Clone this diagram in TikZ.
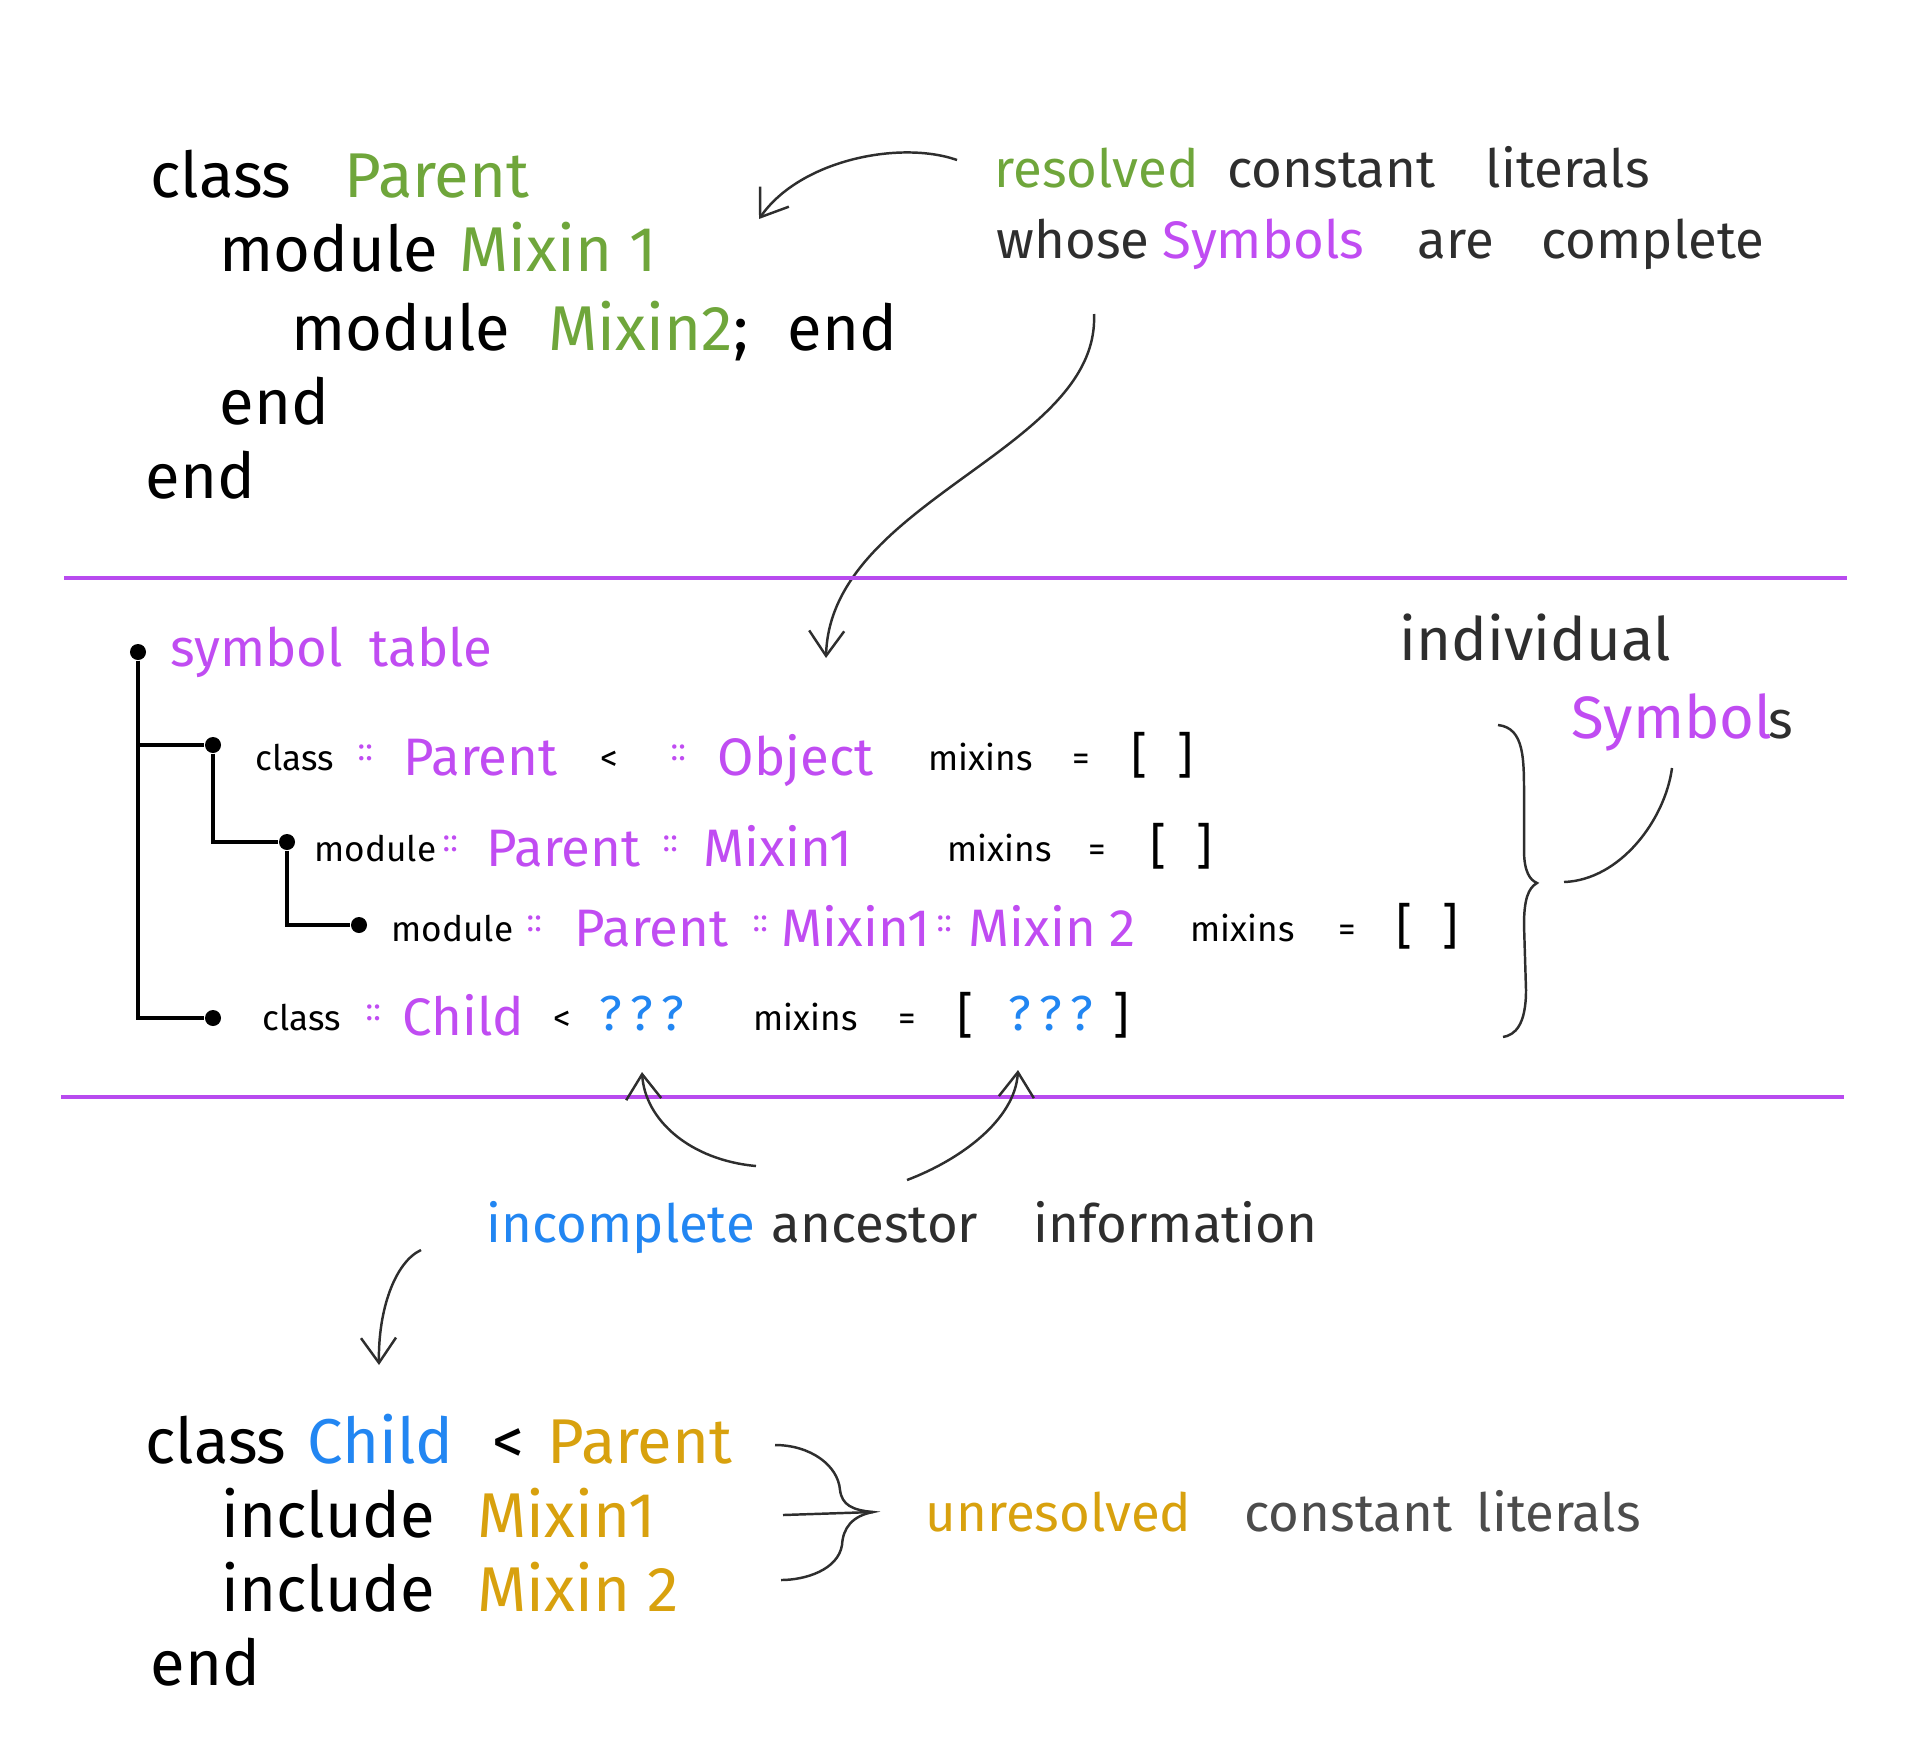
\documentclass[tikz,border=0pt]{standalone}
\usepackage{fontspec}
\setmainfont{Fira Sans}
\usepackage{xcolor}
\usepackage{tikz}
\usetikzlibrary{arrows.meta}
\definecolor{okgreen}{HTML}{6FA63B}
\definecolor{sympurple}{HTML}{C04CF2}
\definecolor{rulepurple}{HTML}{B84BEF}
\definecolor{askblue}{HTML}{2286F2}
\definecolor{badorange}{HTML}{D8A10E}
\definecolor{pencil}{HTML}{2E2E2E}

\begin{document}
\begin{tikzpicture}[x=0.01cm,y=-0.01cm]
\useasboundingbox (0,0) rectangle (1928,1760);
\tikzstyle{code}=[anchor=base west,inner sep=0pt,font=\fontsize{18}{20}\selectfont];
\tikzstyle{note}=[anchor=base west,inner sep=0pt,text=pencil,font=\fontsize{15}{18}\selectfont];
\tikzstyle{small}=[anchor=base west,inner sep=0pt,font=\fontsize{10}{12}\selectfont];
\tikzstyle{sym}=[anchor=base west,inner sep=0pt,text=sympurple,font=\fontsize{15}{17}\selectfont];
\tikzstyle{colons}=[anchor=base west,inner sep=0pt,text=sympurple,font=\fontsize{9}{10}\selectfont];
\tikzstyle{bracket}=[anchor=base west,inner sep=0pt,font=\fontsize{14}{16}\selectfont];
\tikzstyle{dot}=[circle,fill=black,inner sep=0pt,minimum size=0.16cm];
\tikzstyle{pointer}=[pencil,line width=0.7pt,-{Straight Barb[length=2.5mm,width=3.5mm]}];
\tikzstyle{stroke}=[pencil,line width=0.7pt];
\tikzstyle{branch}=[line width=1.1pt];

\node[code] (c1) at (150,197) {class};
\node[code,text=okgreen] (p1) at (344,197) {Parent};
\node[code] (m1) at (219,271) {module};
\node[code,text=okgreen] (x1) at (459,271) {Mixin 1};
\node[code] (m2) at (291,350) {module};
\node[code,text=okgreen] (x2) at (548,350) {Mixin2};
\node[code] (semi) at (733,350) {;};
\node[code] (e1) at (787,350) {end};
\node[code] (e2) at (219,424) {end};
\node[code] (e3) at (145,498) {end};

\node[note,text=okgreen] (resolved) at (994,187) {resolved};
\node[note] (constant) at (1227,187) {constant};
\node[note] (literals) at (1485,187) {literals};
\node[note] (whose) at (996,258) {whose};
\node[note,text=sympurple] (symbols) at (1162,258) {Symbols};
\node[note] (are) at (1417,258) {are};
\node[note] (complete) at (1541,258) {complete};

\coordinate (a1s) at (957,160);
\coordinate (a1e) at (759,219);
\draw[pointer] (a1s) .. controls (900,140) and (800,160) .. (a1e);
\coordinate (a2s) at (1094,314);
\coordinate (a2e) at (826,658);
\draw[pointer] (a2s) .. controls (1100,450) and (830,500) .. (a2e);

\draw[rulepurple,line width=1.2pt] (64,578) -- (1847,578);
\draw[rulepurple,line width=1.2pt] (61,1097) -- (1844,1097);

\node[dot] (root) at (138,652) {};
\node[sym] (symword) at (170,666) {symbol};
\node[sym] (tableword) at (369,666) {table};
\node[dot] (d1) at (213,745) {};
\node[dot] (d2) at (287,842) {};
\node[dot] (d3) at (359,925) {};
\node[dot] (d4) at (213,1018) {};
\draw[branch] (root) |- (d1);
\draw[branch] (root) |- (d4);
\draw[branch] (d1) |- (d2);
\draw[branch] (d2) |- (d3);

\node[small] (k1) at (255,770) {class};
\node[colons] (c11) at (357,760) {::};
\node[sym] (n1) at (403,775) {Parent};
\node[small] (lt1) at (600,770) {<};
\node[colons] (c12) at (670,760) {::};
\node[sym] (o1) at (717,775) {Object};
\node[small] (mx1) at (928,770) {mixins};
\node[small] (eq1) at (1072,770) {=};
\node[bracket] (br1) at (1131,772) {[\hspace{0.6em}]};

\node[small] (k2) at (314,861) {module};
\node[colons] (c21) at (442,851) {::};
\node[sym] (n2) at (486,866) {Parent};
\node[colons] (c22) at (662,851) {::};
\node[sym] (x21) at (703,866) {Mixin1};
\node[small] (mx2) at (947,861) {mixins};
\node[small] (eq2) at (1088,861) {=};
\node[bracket] (br2) at (1150,863) {[\hspace{0.6em}]};

\node[small] (k3) at (391,941) {module};
\node[colons] (c31) at (526,931) {::};
\node[sym] (n3) at (574,946) {Parent};
\node[colons] (c32) at (752,931) {::};
\node[sym] (x31) at (781,946) {Mixin1};
\node[colons] (c33) at (936,931) {::};
\node[sym] (x32) at (968,946) {Mixin 2};
\node[small] (mx3) at (1190,941) {mixins};
\node[small] (eq3) at (1338,941) {=};
\node[bracket] (br3) at (1396,943) {[\hspace{0.6em}]};

\node[small] (k4) at (262,1030) {class};
\node[colons] (c41) at (365,1020) {::};
\node[sym] (ch4) at (402,1035) {Child};
\node[small] (lt4) at (553,1030) {<};
\node[bracket,text=askblue] (q4) at (599,1030) {?\,?\,?};
\node[small] (mx4) at (753,1030) {mixins};
\node[small] (eq4) at (898,1030) {=};
\node[bracket] (bl4) at (957,1032) {[};
\node[bracket,text=askblue] (q4b) at (1008,1030) {?\,?\,?};
\node[bracket] (br4) at (1113,1032) {]};

\draw[stroke] (1498,725) .. controls (1525,728) and (1524,760) .. (1524,800) -- (1524,850) .. controls (1524,872) and (1530,880) .. (1537,883) .. controls (1528,888) and (1524,900) .. (1524,925) -- (1526,990) .. controls (1526,1025) and (1515,1035) .. (1503,1037);

\node[note,font=\fontsize{17}{20}\selectfont] (indiv) at (1399,660) {individual};
\node[note,text=sympurple,font=\fontsize{17}{20}\selectfont] (indsym) at (1571,738) {Symbol};
\node[note,font=\fontsize{15}{18}\selectfont] (indsyms) at (1768,738) {s};
\coordinate (s1) at (1672,768);
\coordinate (s2) at (1564,882);
\draw[stroke] (s1) .. controls (1665,820) and (1620,880) .. (s2);

\coordinate (q1) at (756,1166);
\coordinate (q1e) at (642,1072);
\draw[pointer] (q1) .. controls (690,1160) and (645,1120) .. (q1e);
\coordinate (q2) at (907,1180);
\coordinate (q2e) at (1018,1070);
\draw[pointer] (q2) .. controls (960,1160) and (1015,1120) .. (q2e);

\node[note,text=askblue] (incomplete) at (486,1242) {incomplete};
\node[note] (ancestor) at (771,1242) {ancestor};
\node[note] (information) at (1033,1242) {information};

\coordinate (l1s) at (421,1250);
\coordinate (l1e) at (379,1365);
\draw[pointer] (l1s) .. controls (395,1262) and (378,1310) .. (l1e);

\node[code] (c2) at (145,1463) {class};
\node[code,text=askblue] (child) at (307,1463) {Child};
\node[code] (lt) at (492,1463) {<};
\node[code,text=badorange] (p2) at (547,1463) {Parent};
\node[code] (i1) at (221,1537) {include};
\node[code,text=badorange] (mi1) at (477,1537) {Mixin1};
\node[code] (i2) at (221,1611) {include};
\node[code,text=badorange] (mi2) at (477,1611) {Mixin 2};
\node[code] (e4) at (150,1685) {end};

\coordinate (bt) at (775,1445);
\coordinate (bb) at (781,1580);
\coordinate (btip) at (873,1512);
\coordinate (bmid) at (783,1515);
\draw[stroke] (bt) .. controls (810,1445) and (838,1465) .. (840,1490) .. controls (842,1505) and (852,1510) .. (btip) .. controls (852,1516) and (843,1528) .. (842,1545) .. controls (838,1570) and (805,1580) .. (bb);
\draw[stroke] (bmid) -- (btip);

\node[note,text=badorange] (unresolved) at (925,1531) {unresolved};
\node[note,text=black!70] (constant2) at (1244,1531) {constant};
\node[note,text=black!70] (literals2) at (1476,1531) {literals};
\end{tikzpicture}
\end{document}
